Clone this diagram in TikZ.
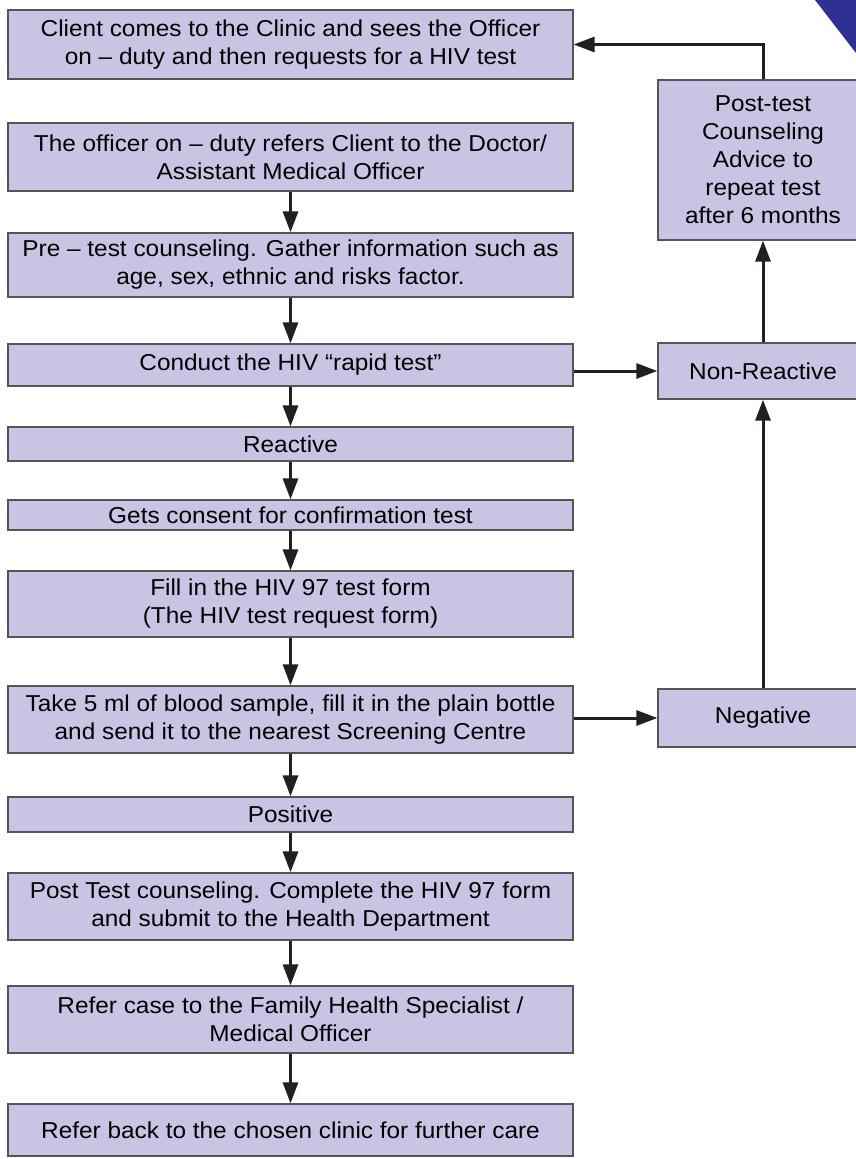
\documentclass[tikz,border=0pt]{standalone}
\usepackage{fontspec}
\setmainfont{Liberation Sans}[FakeStretch=1.06]
\usetikzlibrary{arrows.meta}
\definecolor{boxfill}{RGB}{200,197,228}
\definecolor{boxline}{RGB}{85,85,85}
\definecolor{arrowc}{RGB}{35,31,32}
\definecolor{cornerblue}{RGB}{46,49,146}
\begin{document}
\begin{tikzpicture}[x=1pt,y=-1pt,
  box/.style={draw=boxline, fill=boxfill, line width=1.3pt, inner sep=0pt,
    align=center, font=\fontsize{23}{28}\selectfont},
  lbox/.style={box, minimum width=565pt},
  rbox/.style={box, minimum width=210pt},
  flow/.style={draw=arrowc, line width=3pt, -{Triangle[width=15pt,length=21pt]}}]
\useasboundingbox (0,0) rectangle (856,1159);
\fill[cornerblue] (815,0) -- (856,0) -- (856,53) -- cycle;

\node[lbox, minimum height=69pt] (b1) at (290.5,44.5) {Client comes to the Clinic and sees the Officer\\on -- duty and then requests for a HIV test};
\node[lbox, minimum height=68pt] (b2) at (290.5,157) {The officer on -- duty refers Client to the Doctor/\\Assistant Medical Officer};
\node[lbox, minimum height=64pt] (b3) at (290.5,265) {Pre -- test counseling. Gather information such as\\age, sex, ethnic and risks factor.};
\node[lbox, minimum height=42pt] (b4) at (290.5,365) {Conduct the HIV “rapid test”};
\node[lbox, minimum height=34pt] (b5) at (290.5,444) {Reactive};
\node[lbox, minimum height=30pt] (b6) at (290.5,515) {Gets consent for confirmation test};
\node[lbox, minimum height=66pt] (b7) at (290.5,604) {Fill in the HIV 97 test form\\(The HIV test request form)};
\node[lbox, minimum height=67pt] (b8) at (290.5,719.5) {Take 5 ml of blood sample, fill it in the plain bottle\\and send it to the nearest Screening Centre};
\node[lbox, minimum height=35pt] (b9) at (290.5,814.5) {Positive};
\node[lbox, minimum height=67pt] (b10) at (290.5,906.5) {Post Test counseling. Complete the HIV 97 form\\and submit to the Health Department};
\node[lbox, minimum height=67pt] (b11) at (290.5,1019.5) {Refer case to the Family Health Specialist /\\Medical Officer};
\node[lbox, minimum height=52pt] (b12) at (290.5,1130) {Refer back to the chosen clinic for further care};

\node[rbox, minimum height=160pt] (r1) at (763,160) {Post-test\\Counseling\\Advice to\\repeat test\\after 6 months};
\node[rbox, minimum height=56pt] (r2) at (763,371) {Non-Reactive};
\node[rbox, minimum height=58pt] (r3) at (763,718) {Negative};

\draw[flow] (b2.south) -- (b3.north);
\draw[flow] (b3.south) -- (b4.north);
\draw[flow] (b4.south) -- (b5.north);
\draw[flow] (b5.south) -- (b6.north);
\draw[flow] (b6.south) -- (b7.north);
\draw[flow] (b7.south) -- (b8.north);
\draw[flow] (b8.south) -- (b9.north);
\draw[flow] (b9.south) -- (b10.north);
\draw[flow] (b10.south) -- (b11.north);
\draw[flow] (b11.south) -- (b12.north);

\draw[flow] (b4.east |- r2.west) -- (r2.west);
\draw[flow] (b8.east |- r3.west) -- (r3.west);
\draw[flow] (r3.north) -- (r2.south);
\draw[flow] (r2.north) -- (r1.south);
\draw[flow] (r1.north) |- (b1.east);
\end{tikzpicture}
\end{document}
